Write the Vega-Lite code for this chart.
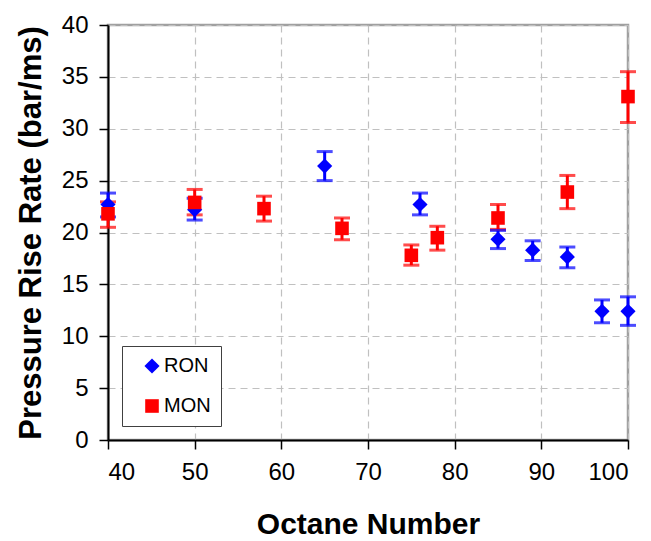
{
  "$schema": "https://vega.github.io/schema/vega-lite/v6.json",
  "width": 520,
  "height": 415,
  "autosize": {"type": "none"},
  "padding": {"left": 108, "top": 25, "right": 23, "bottom": 101},
  "background": "white",
  "config": {
    "font": "Liberation Sans",
    "view": {"stroke": "#a0a0a0", "strokeWidth": 2.5},
    "legend": {"symbolOpacity": 1},
    "axis": {
      "domainColor": "black", "domainWidth": 2, "tickColor": "black", "tickWidth": 1.5, "tickSize": 9,
      "labelFont": "Liberation Sans", "labelFontSize": 24, "labelColor": "black", "labelPadding": 11,
      "titleFont": "Liberation Sans", "titleFontWeight": "bold", "titleColor": "black",
      "gridColor": "#c0c0c0", "gridDash": [7, 5], "gridWidth": 1.2
    }
  },
  "data": {
    "values": [
      {"series": "RON", "octane": 40, "value": 22.7, "lo": 21.5, "hi": 23.8},
      {"series": "RON", "octane": 50, "value": 22.2, "lo": 21.2, "hi": 23.3},
      {"series": "RON", "octane": 65, "value": 26.4, "lo": 25.0, "hi": 27.8},
      {"series": "RON", "octane": 76, "value": 22.7, "lo": 21.7, "hi": 23.8},
      {"series": "RON", "octane": 85, "value": 19.35, "lo": 18.45, "hi": 20.2},
      {"series": "RON", "octane": 89, "value": 18.3, "lo": 17.3, "hi": 19.2},
      {"series": "RON", "octane": 93, "value": 17.65, "lo": 16.6, "hi": 18.6},
      {"series": "RON", "octane": 97, "value": 12.4, "lo": 11.3, "hi": 13.5},
      {"series": "RON", "octane": 100, "value": 12.4, "lo": 11.05, "hi": 13.8},
      {"series": "MON", "octane": 40, "value": 21.8, "lo": 20.5, "hi": 22.95},
      {"series": "MON", "octane": 50, "value": 22.9, "lo": 21.7, "hi": 24.15},
      {"series": "MON", "octane": 58, "value": 22.3, "lo": 21.1, "hi": 23.5},
      {"series": "MON", "octane": 67, "value": 20.4, "lo": 19.3, "hi": 21.4},
      {"series": "MON", "octane": 75, "value": 17.8, "lo": 16.85, "hi": 18.8},
      {"series": "MON", "octane": 78, "value": 19.5, "lo": 18.3, "hi": 20.6},
      {"series": "MON", "octane": 85, "value": 21.4, "lo": 20.3, "hi": 22.7},
      {"series": "MON", "octane": 93, "value": 23.9, "lo": 22.3, "hi": 25.5},
      {"series": "MON", "octane": 100, "value": 33.1, "lo": 30.6, "hi": 35.5}
    ]
  },
  "encoding": {
    "x": {
      "field": "octane", "type": "quantitative",
      "scale": {"domain": [40, 100], "nice": false, "zero": false},
      "axis": {"values": [40, 50, 60, 70, 80, 90, 100], "title": "Octane Number", "titleFontSize": 30, "titlePadding": 25}
    }
  },
  "layer": [
    {
      "mark": {"type": "rule", "strokeWidth": 3},
      "encoding": {
        "y": {"field": "lo", "type": "quantitative",
          "scale": {"domain": [0, 40], "nice": false},
          "axis": {"values": [0, 5, 10, 15, 20, 25, 30, 35, 40], "title": "Pressure Rise Rate (bar/ms)", "titleFontSize": 31, "titlePadding": 14}},
        "y2": {"field": "hi"},
        "color": {"field": "series", "type": "nominal", "scale": {"domain": ["RON", "MON"], "range": ["#0000ff", "#ff0000"]}}
      }
    },
    {
      "mark": {"type": "tick", "orient": "horizontal", "size": 16, "thickness": 3},
      "encoding": {
        "y": {"field": "lo", "type": "quantitative"},
        "color": {"field": "series", "type": "nominal"}
      }
    },
    {
      "mark": {"type": "tick", "orient": "horizontal", "size": 16, "thickness": 3},
      "encoding": {
        "y": {"field": "hi", "type": "quantitative"},
        "color": {"field": "series", "type": "nominal"}
      }
    },
    {
      "mark": {"type": "point", "filled": true, "opacity": 1, "fillOpacity": 1},
      "encoding": {
        "y": {"field": "value", "type": "quantitative"},
        "color": {"field": "series", "type": "nominal",
          "legend": {
            "title": null, "orient": "none", "legendX": 14, "legendY": 321,
            "strokeColor": "#404040", "fillColor": "white", "padding": 10, "symbolOffset": 10,
            "labelFontSize": 20, "labelFont": "Liberation Sans", "labelColor": "black",
            "rowPadding": 20, "symbolSize": 230, "labelOffset": 2, "symbolOpacity": 1, "symbolStrokeWidth": 0,
            "labelExpr": "datum.label + '\u00a0\u00a0\u00a0'"
          }},
        "shape": {"field": "series", "type": "nominal", "scale": {"domain": ["RON", "MON"], "range": ["diamond", "square"]},
          "legend": {
            "title": null, "orient": "none", "legendX": 14, "legendY": 321,
            "strokeColor": "#404040", "fillColor": "white", "padding": 10, "symbolOffset": 10,
            "labelFontSize": 20, "labelFont": "Liberation Sans", "labelColor": "black",
            "rowPadding": 20, "symbolSize": 230, "labelOffset": 2, "symbolOpacity": 1, "symbolStrokeWidth": 0,
            "labelExpr": "datum.label + '\u00a0\u00a0\u00a0'"
          }},
        "size": {"field": "series", "type": "nominal", "scale": {"domain": ["RON", "MON"], "range": [230, 185]}, "legend": null},
        "order": {"field": "series", "sort": "descending"}
      }
    }
  ]
}
